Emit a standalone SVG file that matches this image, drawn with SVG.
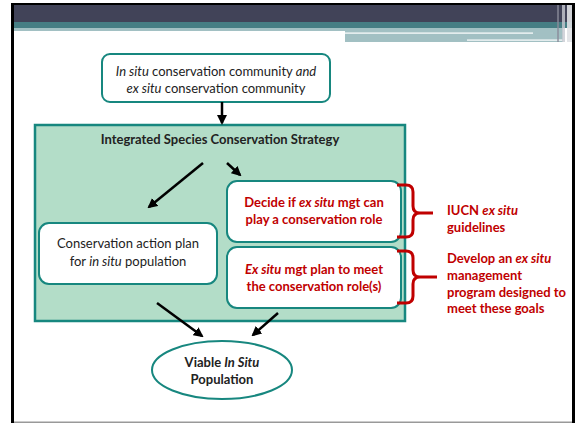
<svg xmlns="http://www.w3.org/2000/svg" width="579" height="424" viewBox="0 0 579 424">
<style>
.t{font-family:Lato,"Liberation Sans",sans-serif;font-size:13px;fill:#222;text-anchor:middle}
.b{font-weight:bold}
.r{fill:#C00000;font-weight:bold}
.box{fill:#fff;stroke:#17877F;stroke-width:2}
.arr{stroke:#000;stroke-width:2.5;fill:none;marker-end:url(#ah)}
.br{fill:none;stroke:#C00000;stroke-width:3}
</style>
<defs>
<marker id="ah" viewBox="0 0 10 10" refX="8" refY="5" markerWidth="4" markerHeight="4" orient="auto" markerUnits="strokeWidth">
<path d="M0,0 L10,5 L0,10 z" fill="#000"/>
</marker>
</defs>
<rect width="579" height="424" fill="#fff"/>
<g id="frame">
<rect x="11" y="3" width="3" height="420" fill="#000"/>
<rect x="11" y="3" width="564" height="2" fill="#000"/>
<rect x="572" y="3" width="3" height="420" fill="#000"/>
<rect x="14" y="421.5" width="558" height="1.5" fill="#999"/>
<rect x="14" y="5" width="558" height="17" fill="#414358"/>
<rect x="14" y="22" width="558" height="6" fill="#467E84"/>
<rect x="14" y="28" width="331" height="3" fill="#A2C0C3"/>
<rect x="345" y="28" width="218" height="14" fill="#A2C0C3"/>
<rect x="345" y="32.5" width="188" height="1.2" fill="#fff"/>
<rect x="467" y="39.5" width="96" height="1.2" fill="#fff"/>
<rect x="557" y="5" width="2" height="37" fill="#8a8c9a" opacity="0.7"/>
<rect x="562" y="5" width="3" height="37" fill="#c8cad2" opacity="0.8"/>
<rect x="567" y="5" width="5" height="37" fill="#e0e2e6" opacity="0.9"/>
</g>
<g id="source">
<rect class="box" x="102" y="54" width="228" height="48" rx="8"/>
<text class="t" x="216" y="76"><tspan font-style="italic">In situ</tspan> conservation community <tspan font-style="italic">and</tspan></text>
<text class="t" x="216" y="93"><tspan font-style="italic">ex situ</tspan> conservation community</text>
</g>
<g id="strategy">
<rect x="35" y="125" width="370" height="196" fill="#B3DDC8" stroke="#17877F" stroke-width="2.5"/>
<text class="t b" x="220" y="144">Integrated Species Conservation Strategy</text>
</g>
<g id="decide">
<rect class="box" x="227" y="181" width="174" height="61" rx="10"/>
<text class="t r" x="314" y="207">Decide if <tspan font-style="italic">ex situ</tspan> mgt can</text>
<text class="t r" x="314" y="224">play a conservation role</text>
</g>
<g id="plan">
<rect class="box" x="227" y="247" width="174" height="61" rx="10"/>
<text class="t r" x="314" y="274"><tspan font-style="italic">Ex situ</tspan> mgt plan to meet</text>
<text class="t r" x="314" y="291">the conservation role(s)</text>
</g>
<g id="action">
<rect class="box" x="39" y="223" width="178" height="61" rx="10"/>
<text class="t" x="128" y="248">Conservation action plan</text>
<text class="t" x="128" y="266">for <tspan font-style="italic">in situ</tspan> population</text>
</g>
<g id="viable">
<ellipse cx="222" cy="370" rx="70" ry="29" fill="#fff" stroke="#17877F" stroke-width="2"/>
<text class="t b" x="222" y="367">Viable <tspan font-style="italic">In Situ</tspan></text>
<text class="t b" x="222" y="384">Population</text>
</g>
<g id="iucn">
<path class="br" d="M397,185 H406 Q413,185 413,192 V206 Q413,213 420,213 H433 M420,213 Q413,213 413,220 V230 Q413,237 406,237 H397"/>
<text class="t r" x="447" y="215" style="text-anchor:start">IUCN <tspan font-style="italic">ex situ</tspan></text>
<text class="t r" x="447" y="232" style="text-anchor:start">guidelines</text>
</g>
<g id="develop">
<path class="br" d="M397,251 H406 Q413,251 413,258 V270 Q413,277 420,277 H437 M420,277 Q413,277 413,284 V296 Q413,303 406,303 H397"/>
<text class="t r" x="447" y="263" style="text-anchor:start">Develop an <tspan font-style="italic">ex situ</tspan></text>
<text class="t r" x="447" y="280" style="text-anchor:start">management</text>
<text class="t r" x="447" y="297" style="text-anchor:start">program designed to</text>
<text class="t r" x="447" y="313" style="text-anchor:start">meet these goals</text>
</g>
<g id="connectors">
<line class="arr" x1="222" y1="102" x2="222" y2="123"/>
<line class="arr" x1="203" y1="163" x2="149" y2="207"/>
<line class="arr" x1="227" y1="163" x2="240" y2="175"/>
<line class="arr" x1="157" y1="303" x2="202" y2="336"/>
<line class="arr" x1="278" y1="313" x2="253" y2="335"/>
</g>
</svg>
